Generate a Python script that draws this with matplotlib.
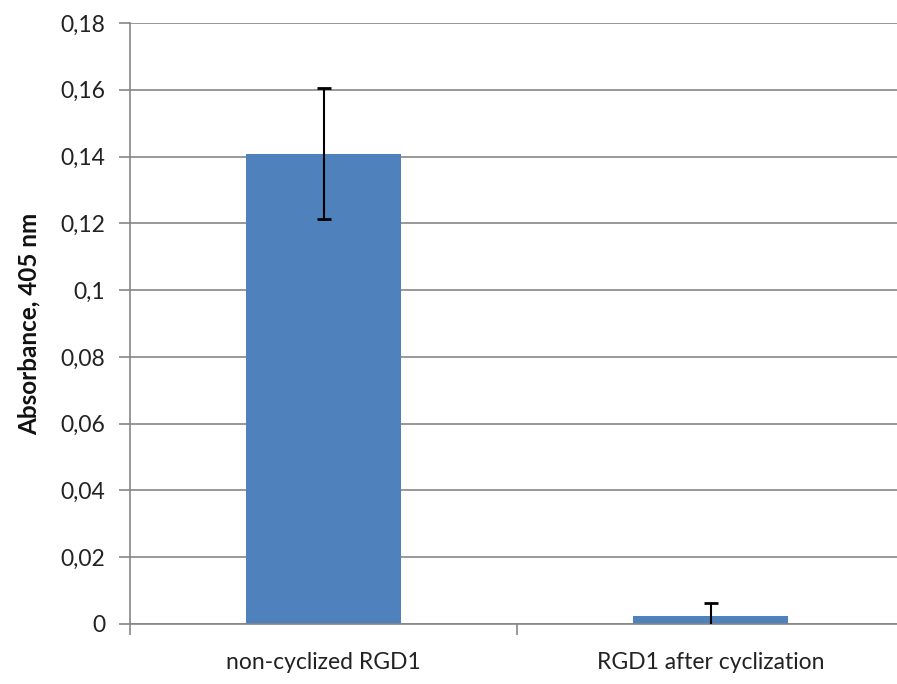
import matplotlib.pyplot as plt
from matplotlib.ticker import FuncFormatter

categories = ['non-cyclized RGD1', 'RGD1 after cyclization']
absorbance = [0.1409, 0.0024]
errors = [0.0196, 0.0038]
yticks = [0, 0.02, 0.04, 0.06, 0.08, 0.1, 0.12, 0.14, 0.16, 0.18]

plt.rcParams['font.family'] = ['Lato', 'DejaVu Sans']

fig = plt.figure(figsize=(8.97, 6.84), dpi=100)
ax = fig.add_axes([130 / 897, 60 / 684, 774 / 897, 601 / 684])

x = list(range(len(categories)))
ax.bar(x, absorbance, width=0.4, color='#4F81BD', zorder=2)
ax.errorbar(x, absorbance, yerr=errors, fmt='none', ecolor='black',
            elinewidth=1.5, capsize=5, capthick=2, zorder=3)

ax.set_xlim(-0.5, 1.5)
ax.set_ylim(0, 0.18)
ax.set_yticks(yticks)
ax.yaxis.set_major_formatter(FuncFormatter(lambda v, p: ('%g' % v).replace('.', ',')))
ax.grid(axis='y', color='#868686', linewidth=1.2, zorder=0)

ax.set_xticks([-0.5, 0.5, 1.5])
ax.set_xticklabels([])
ax.set_xticks(x, minor=True)
ax.set_xticklabels(categories, minor=True)
ax.tick_params(axis='x', which='minor', length=0, pad=20, labelsize=16.5, labelcolor='#222222')
ax.tick_params(axis='x', which='major', length=8, width=1.2, color='#868686')
ax.tick_params(axis='y', length=8, width=1.2, color='#868686', labelsize=16.5,
               labelcolor='#222222', pad=10)

for s in ['top', 'right']:
    ax.spines[s].set_visible(False)
for s in ['left', 'bottom']:
    ax.spines[s].set_color('#868686')
    ax.spines[s].set_linewidth(1.2)

ax.set_ylabel('Absorbance, 405 nm', fontsize=17.5, fontweight='bold', color='#111111', labelpad=14)

fig.savefig('out.png', dpi=100)
